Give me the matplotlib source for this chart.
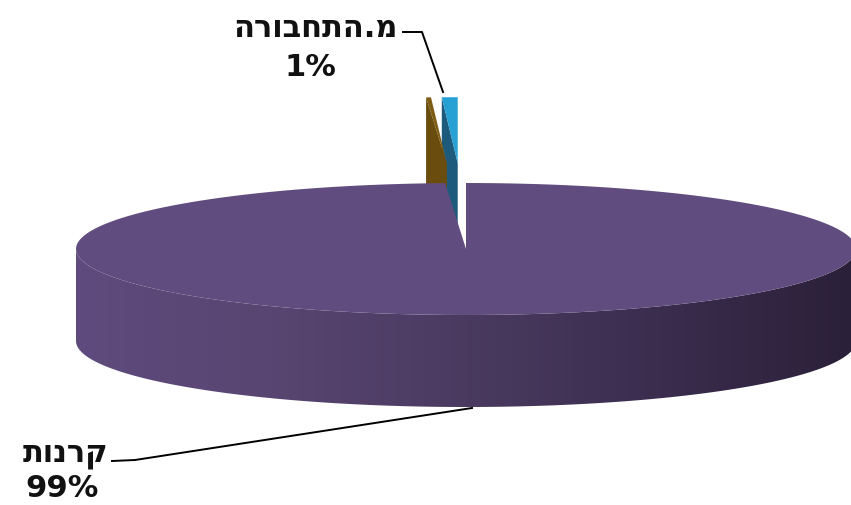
import numpy as np
import matplotlib
matplotlib.use("Agg")
import matplotlib.pyplot as plt
from matplotlib.patches import Polygon
from matplotlib.colors import LinearSegmentedColormap

# slice data (percent of total), counter-clockwise from 12 o'clock
categories = ["מ.התחבורה", None, "קרנות"]
values = [0.65, 0.2, 99.15]
top_colors = ["#27a0d4", "#7d5b12", "#614c7f"]
face_colors = ["#1d5a7c", "#6a4d0e", "#4a3a62"]
exploded = [True, True, False]

# pie geometry in pixel space
cx, cy = 466, 250
rx, ry = 390, 66
depth = 92
explode = 1.3

fig = plt.figure(figsize=(8.51, 5.06), dpi=100)
ax = fig.add_axes([0, 0, 1, 1])
ax.set_xlim(0, 851)
ax.set_ylim(506, 0)
ax.axis("off")


def arc(t0, t1, ox=0.0, oy=0.0, dz=0.0, n=200):
    t = np.radians(np.linspace(t0, t1, n))
    return np.column_stack([cx + ox + rx * np.cos(t), cy + oy - ry * np.sin(t) + dz])


total = sum(values)
angles = [90.0]
for v in values:
    angles.append(angles[-1] + 360.0 * v / total)

# exploded small slices (behind the main slice)
offsets = {}
for i in range(len(values)):
    if exploded[i]:
        mid = np.radians((angles[i] + angles[i + 1]) / 2)
        offsets[i] = (0.8 * explode * rx * np.cos(mid), -explode * ry * np.sin(mid))

for i, (ox, oy) in offsets.items():
    apex = np.array([cx + ox, cy + oy])
    outer = arc(angles[i + 1], angles[i + 1], ox, oy, n=1)[0]
    side = np.array([apex, outer, outer + [0, depth], apex + [0, depth]])
    ax.add_patch(Polygon(side, closed=True, facecolor=face_colors[i], edgecolor="none", zorder=1 + i))
for i, (ox, oy) in offsets.items():
    apex = np.array([[cx + ox, cy + oy]])
    top = np.vstack([apex, arc(angles[i], angles[i + 1], ox, oy, n=20)])
    ax.add_patch(Polygon(top, closed=True, facecolor=top_colors[i], edgecolor="none", zorder=3 + i))

# main slice: side band with horizontal shading, then top face
main = 2
side = np.vstack([arc(180, 360), arc(360, 180, dz=depth)])
side_patch = Polygon(side, closed=True, facecolor="none", edgecolor="none", zorder=6)
ax.add_patch(side_patch)
shade = LinearSegmentedColormap.from_list(
    "shade", ["#5f4b7d", "#584571", "#4a3a60", "#3a2d4e", "#2b2039"]
)
grad = np.linspace(0, 1, 256).reshape(1, -1)
im = ax.imshow(grad, cmap=shade, aspect="auto", extent=[cx - rx, cx + rx, cy + ry + depth + 2, cy - 2],
               zorder=6, interpolation="bicubic")
im.set_clip_path(side_patch)
ax.set_xlim(0, 851)
ax.set_ylim(506, 0)

top = np.vstack([[[cx, cy]], arc(angles[main], angles[main + 1])])
ax.add_patch(Polygon(top, closed=True, facecolor=top_colors[main], edgecolor="none", zorder=7))

# labels with leader lines (Hebrew reversed for visual right-to-left order)
font = dict(family=["DejaVu Sans", "Liberation Sans"], fontweight="bold", fontsize=22, color="#111111")
ax.text(398, 28, categories[0][::-1], ha="right", va="center", **font)
ax.text(310, 67, f"{values[0]:.0f}%", ha="center", va="center", **font)
ax.plot([403, 422, 443], [33, 33, 93], color="black", lw=1.4, zorder=10)

ax.text(108, 455, categories[2][::-1], ha="right", va="center", **font)
ax.text(62, 489, f"{values[2]:.0f}%", ha="center", va="center", **font)
ax.plot([112, 135, 472], [462, 461, 409], color="black", lw=1.4, zorder=10)

fig.savefig("out.png", dpi=100)
